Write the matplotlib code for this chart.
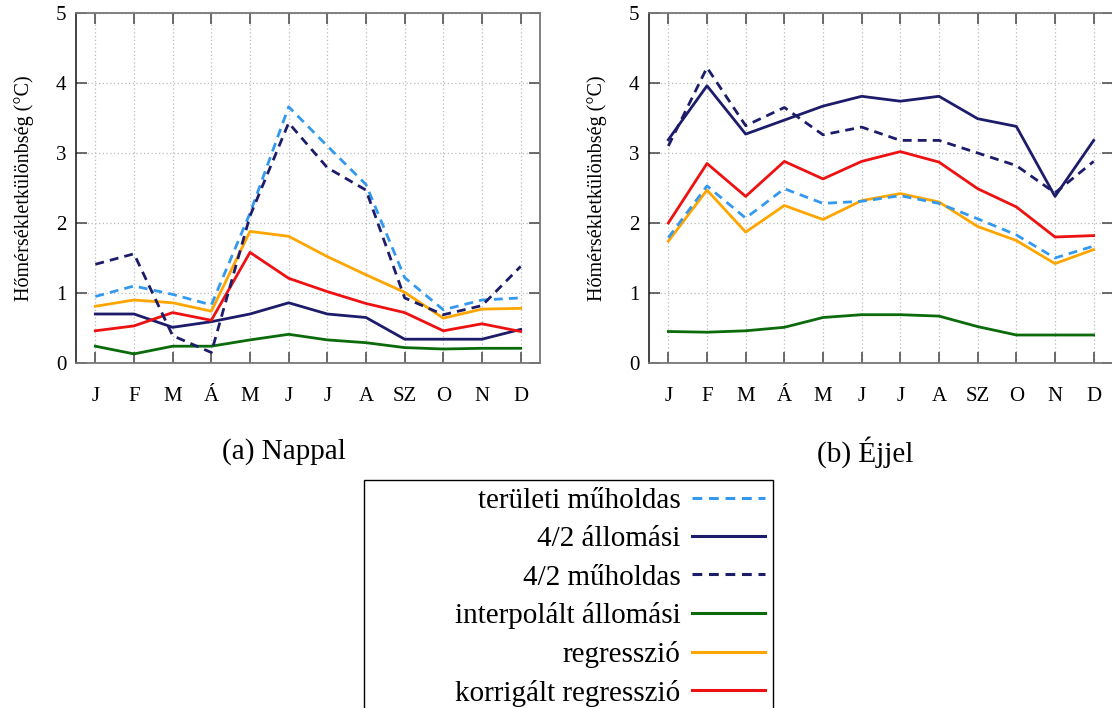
import matplotlib
matplotlib.use("Agg")
import matplotlib.pyplot as plt
from matplotlib.lines import Line2D
from matplotlib.patches import Rectangle

plt.rcParams['font.family'] = ['Liberation Serif', 'DejaVu Serif']

months = ['J', 'F', 'M', 'Á', 'M', 'J', 'J', 'A', 'SZ', 'O', 'N', 'D']

# Nappal (day)
day_teruleti = [0.95, 1.10, 0.98, 0.83, 2.14, 3.66, 3.10, 2.55, 1.22, 0.76, 0.90, 0.93]
day_allomasi42 = [0.70, 0.70, 0.51, 0.59, 0.70, 0.86, 0.70, 0.65, 0.34, 0.34, 0.34, 0.48]
day_muholdas42 = [1.41, 1.56, 0.39, 0.15, 2.10, 3.43, 2.79, 2.47, 0.93, 0.69, 0.82, 1.38]
day_interpolalt = [0.24, 0.13, 0.24, 0.24, 0.33, 0.41, 0.33, 0.29, 0.22, 0.20, 0.21, 0.21]
day_regresszio = [0.81, 0.90, 0.86, 0.74, 1.88, 1.81, 1.52, 1.26, 1.01, 0.64, 0.77, 0.78]
day_korrigalt = [0.46, 0.53, 0.72, 0.61, 1.58, 1.21, 1.02, 0.85, 0.72, 0.46, 0.56, 0.45]

# Éjjel (night)
night_teruleti = [1.79, 2.53, 2.07, 2.49, 2.28, 2.31, 2.39, 2.28, 2.06, 1.83, 1.50, 1.67]
night_allomasi42 = [3.19, 3.96, 3.27, 3.47, 3.67, 3.81, 3.74, 3.81, 3.49, 3.38, 2.38, 3.18]
night_muholdas42 = [3.10, 4.22, 3.39, 3.65, 3.26, 3.37, 3.18, 3.18, 3.00, 2.82, 2.43, 2.88]
night_interpolalt = [0.45, 0.44, 0.46, 0.51, 0.65, 0.69, 0.69, 0.67, 0.52, 0.40, 0.40, 0.40]
night_regresszio = [1.74, 2.47, 1.87, 2.25, 2.05, 2.32, 2.42, 2.30, 1.95, 1.75, 1.42, 1.62]
night_korrigalt = [2.00, 2.85, 2.38, 2.88, 2.63, 2.88, 3.02, 2.87, 2.49, 2.23, 1.80, 1.82]

labels = ['területi műholdas', '4/2 állomási', '4/2 műholdas',
          'interpolált állomási', 'regresszió', 'korrigált regresszió']
colors = ['#3399ee', '#1c1c6a', '#1c1c6a', '#0b6b0b', '#ffa500', '#ee1111']
styles = [(0, (3.2, 2.2)), '-', (0, (3.2, 2.2)), '-', '-', '-']

day = [day_teruleti, day_allomasi42, day_muholdas42, day_interpolalt, day_regresszio, day_korrigalt]
night = [night_teruleti, night_allomasi42, night_muholdas42, night_interpolalt, night_regresszio, night_korrigalt]
draw_order = [3, 1, 5, 4, 0, 2]

W, H = 1112, 708
fig = plt.figure(figsize=(W / 100, H / 100), dpi=100)

ax1 = fig.add_axes([76 / W, 1 - 363 / H, 464 / W, 350 / H])
ax2 = fig.add_axes([649 / W, 1 - 363 / H, 464 / W, 350 / H])

x = list(range(1, 13))
for ax, data, cap, cx in [(ax1, day, '(a) Nappal', 284), (ax2, night, '(b) Éjjel', 865)]:
    for i in draw_order:
        ax.plot(x, data[i], color=colors[i], linestyle=styles[i], lw=2.0, zorder=3)
    ax.set_xlim(0.5, 12.5)
    ax.set_ylim(0, 5)
    ax.set_xticks(x)
    ax.set_xticklabels(months)
    ax.set_yticks([0, 1, 2, 3, 4, 5])
    ax.grid(True, linestyle=(0, (1, 2)), color='#bbbbbb', lw=0.9)
    ax.tick_params(direction='in', top=True, right=True, length=8, width=1.1,
                   color='#444444', labelsize=15)
    ax.tick_params(axis='x', pad=17)
    ax.tick_params(axis='y', pad=7)
    for s in ['top', 'right', 'bottom']:
        ax.spines[s].set_color('#777777')
        ax.spines[s].set_linewidth(1.3)
    ax.spines['left'].set_color('#111111')
    ax.spines['left'].set_linewidth(1.1)
    ax.set_ylabel('Hőmérsékletkülönbség (°C)', fontsize=14.5, labelpad=16)
    fig.text(cx / W, 1 - 452 / H, cap, ha='center', va='center', fontsize=21)

# legend frame (extends past the bottom edge, as in the reference)
fig.patches.append(Rectangle((364 / W, -0.05), (773 - 364) / W, (1 - 480 / H) + 0.05,
                             transform=fig.transFigure, fill=False, edgecolor='black',
                             linewidth=1.0, zorder=5))

handles = [Line2D([], [], color=colors[i], linestyle=styles[i], lw=2.2) for i in range(6)]
leg = fig.legend(handles, labels, loc='upper right', bbox_to_anchor=(765 / W, 1 - 488 / H),
                 markerfirst=False, fontsize=21, frameon=False,
                 handlelength=2.5, labelspacing=0.4,
                 borderpad=0, handletextpad=0.4, borderaxespad=0)

fig.savefig('out.png', dpi=100)
